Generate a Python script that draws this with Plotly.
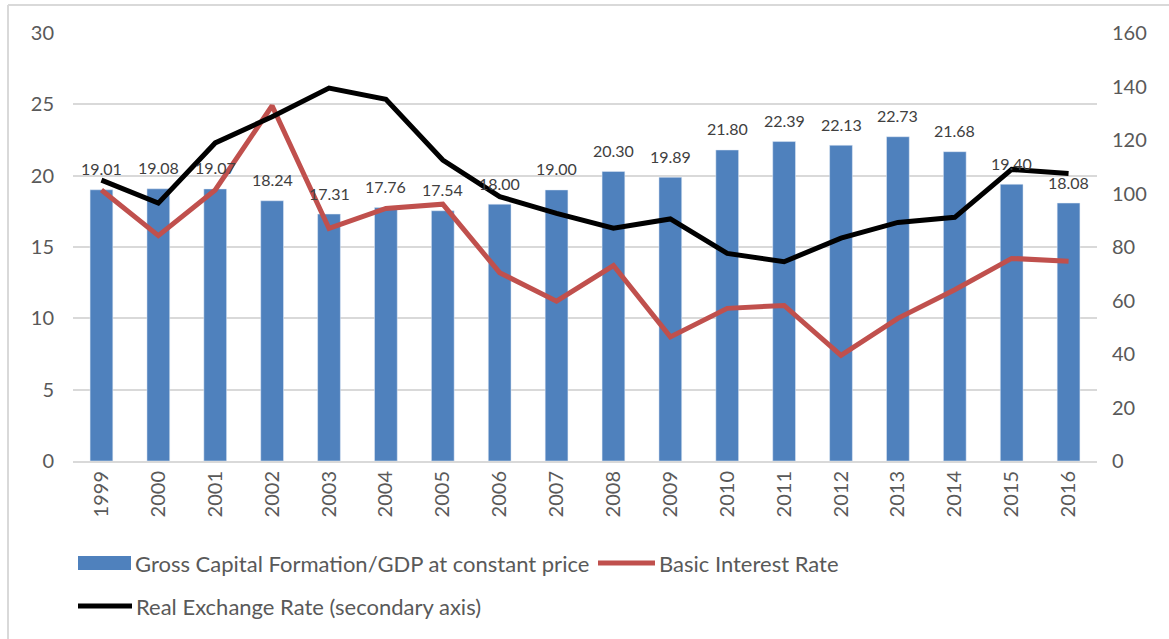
import plotly.graph_objects as go

years = [str(y) for y in range(1999, 2017)]
gcf_gdp = [19.01, 19.08, 19.07, 18.24, 17.31, 17.76, 17.54, 18.00, 19.00, 20.30,
           19.89, 21.80, 22.39, 22.13, 22.73, 21.68, 19.40, 18.08]
interest_rate = [19.0, 15.8, 19.0, 24.9, 16.3, 17.7, 18.0, 13.2, 11.2, 13.7,
                 8.7, 10.7, 10.9, 7.4, 10.0, 12.0, 14.2, 14.0]
real_exchange = [105.0, 96.4, 118.9, 128.7, 139.4, 135.2, 112.5, 98.8, 92.6, 87.0,
                 90.5, 77.6, 74.5, 83.3, 89.2, 91.1, 109.0, 107.5]

W, H = 1169, 639
L, R, T, B = 73, 1097, 33, 461


def px(x):
    return (x - L) / (R - L)


def py(y):
    return (B - y) / (B - T)


FONT = "Lato"
GRAY = "#595959"

fig = go.Figure()
fig.add_trace(go.Bar(
    x=years, y=gcf_gdp, name="Gross Capital Formation/GDP at constant price",
    marker=dict(color="#4F81BD"), yaxis="y",
))
fig.add_trace(go.Scatter(
    x=years, y=interest_rate, name="Basic Interest Rate", mode="lines",
    line=dict(color="#C0504D", width=5), yaxis="y",
))
fig.add_trace(go.Scatter(
    x=years, y=real_exchange, name="Real Exchange Rate (secondary axis)", mode="lines",
    line=dict(color="#000000", width=5), yaxis="y2",
))

shapes = []
annotations = []

# bar value labels (category index positions on the x axis)
for i, v in enumerate(gcf_gdp):
    annotations.append(dict(x=i, y=v, xref="x", yref="y", yanchor="middle",
                            yshift=21, showarrow=False, text=f"{v:.2f}",
                            font=dict(family=FONT, size=16, color="#404040")))

# frame
shapes.append(dict(type="line", xref="paper", yref="paper",
                   x0=px(8), x1=px(1169), y0=py(5), y1=py(5),
                   line=dict(color="#d9d9d9", width=2)))
shapes.append(dict(type="line", xref="paper", yref="paper",
                   x0=px(8), x1=px(8), y0=py(5), y1=py(639),
                   line=dict(color="#d9d9d9", width=2)))

# manual legend
legend_items = [
    ("bar", "#4F81BD", "Gross Capital Formation/GDP at constant price", 78, 131, 563),
    ("line", "#C0504D", "Basic Interest Rate", 598, 655, 563),
    ("line", "#000000", "Real Exchange Rate (secondary axis)", 78, 132, 606),
]
for kind, color, label, x0, x1, yc in legend_items:
    if kind == "bar":
        shapes.append(dict(type="rect", xref="paper", yref="paper",
                           x0=px(x0), x1=px(x1), y0=py(yc - 7), y1=py(yc + 7),
                           fillcolor=color, line=dict(width=0)))
    else:
        shapes.append(dict(type="line", xref="paper", yref="paper",
                           x0=px(x0), x1=px(x1), y0=py(yc), y1=py(yc),
                           line=dict(color=color, width=5)))
    annotations.append(dict(xref="paper", yref="paper", x=px(x1 + 2), y=py(yc),
                            xanchor="left", yanchor="middle", showarrow=False,
                            text=label, font=dict(family=FONT, size=22, color=GRAY)))

fig.update_layout(
    width=W, height=H,
    margin=dict(l=L, r=W - R, t=T, b=H - B),
    paper_bgcolor="white", plot_bgcolor="white",
    showlegend=False,
    bargap=0.6,
    font=dict(family=FONT, color=GRAY),
    xaxis=dict(type="category", range=[-0.5, len(years) - 0.5], tickangle=-90,
               tickfont=dict(size=20, color=GRAY),
               showline=True, linecolor="#d9d9d9", linewidth=2, ticks="", showgrid=False),
    yaxis=dict(range=[0, 30], dtick=5, tickfont=dict(size=20, color=GRAY),
               showgrid=True, gridcolor="#d9d9d9", gridwidth=2, zeroline=False,
               ticks="", ticklabelstandoff=18),
    yaxis2=dict(range=[0, 160], dtick=20, overlaying="y", side="right",
                tickfont=dict(size=20, color=GRAY), showgrid=False, zeroline=False,
                ticks="", ticklabelstandoff=14),
    shapes=shapes, annotations=annotations,
)

fig.write_html("out.html", config={"displayModeBar": False},
               post_script="document.body.style.margin='0';")
